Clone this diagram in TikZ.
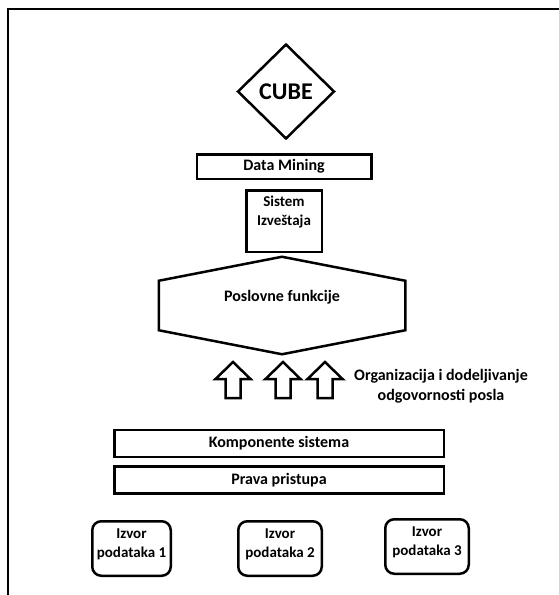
\documentclass[tikz,border=0pt]{standalone}
\usepackage{fontspec}
\setmainfont{Carlito}
\usetikzlibrary{shapes.geometric, positioning}

\begin{document}
\begin{tikzpicture}[x=1pt, y=-1pt, line width=2.5pt, on grid,
  every node/.style={font=\bfseries\fontsize{16}{20}\selectfont},
  box/.style={draw, rectangle, inner sep=0pt},
  wide/.style={box, minimum width=329.5pt, minimum height=27pt},
  lbl/.style={align=center, inner sep=0pt},
  smalltxt/.style={font=\bfseries\fontsize{15}{19.5}\selectfont},
  srcbox/.style={box, rounded corners=9pt, minimum width=#1, minimum height=54.5pt},
  izvor/.style={label={[lbl, smalltxt, yshift=4pt]center:#1}},
  upblock/.style={line width=2.5pt, line join=miter}]

\useasboundingbox (0,0) rectangle (558,595);

% frame
\draw[line width=2pt] (8,597) -- (8,9) -- (560,9);

\node[draw, diamond, aspect=1, inner sep=0pt, minimum width=97pt, minimum height=95pt,
      font=\bfseries\fontsize{24}{28}\selectfont] (cube) at (286,91.5) {CUBE};
\node[box, minimum width=174.5pt, minimum height=24.5pt, below=75pt of cube, xshift=-2pt] (dm) {Data Mining};
\node[box, minimum width=75.5pt, minimum height=61.5pt, below=54.5pt of dm] (sistem) {};
\node[lbl, smalltxt] (sistemtxt) at ([yshift=9pt]sistem.center) {Sistem\\Izveštaja};

\node[minimum width=244pt, minimum height=95pt, inner sep=0pt, below=84.5pt of sistem, xshift=-2pt] (hex) {};
\draw (hex.north) -- ([yshift=-24pt]hex.north west) -- ([yshift=24pt]hex.south west)
  -- (hex.south) -- ([yshift=24pt]hex.south east) -- ([yshift=-24pt]hex.north east) -- cycle;
\node[lbl] (hextxt) at ([yshift=8pt]hex.center) {Poslovne funkcije};

% block arrows
\foreach \ax [count=\i] in {233,283,325} {
  \coordinate (up\i) at (\ax,398);
  \draw[upblock] (up\i) ++(-7.5,0) -- ++(0,-19) -- ++(-10,0) -- ++(17.5,-17)
    -- ++(17.5,17) -- ++(-10,0) -- ++(0,19) -- cycle;
}
\node[lbl] (org) at (441,386) {Organizacija i dodeljivanje\\odgovornosti posla};

\node[wide] (komp) at (279,443.5) {Komponente sistema};
\node[wide, below=36.5pt of komp] (prava) {Prava pristupa};

\node[srcbox=83.5pt, izvor={Izvor\\podataka 2}, below=68.5pt of prava, xshift=1pt] (izv2) {};
\node[srcbox=78.5pt, izvor={Izvor\\podataka 1}, left=148.5pt of izv2] (izv1) {};
\node[srcbox=83.5pt, izvor={Izvor\\podataka 3}, right=147pt of izv2, yshift=2pt] (izv3) {};

\end{tikzpicture}
\end{document}
